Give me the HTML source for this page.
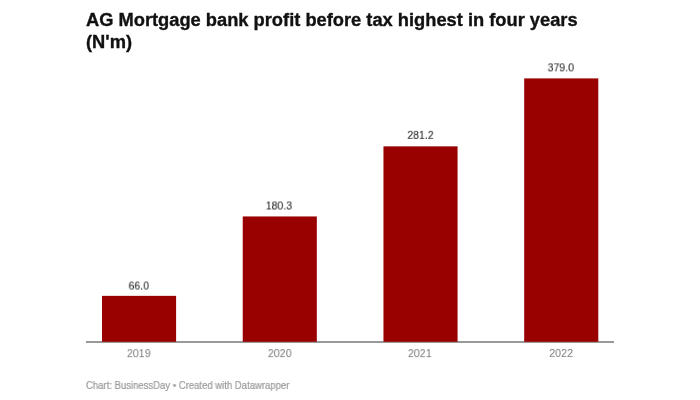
<!DOCTYPE html>
<html>
<head>
<meta charset="utf-8">
<style>
html,body{margin:0;padding:0;background:#fff;}
body{width:700px;height:400px;position:relative;overflow:hidden;filter:blur(0.35px);font-family:"Liberation Sans",sans-serif;}
.t{position:absolute;white-space:nowrap;}
.t,.val span,.yr span{will-change:transform;}
#title{left:86.4px;top:8.8px;font-size:18.3px;font-weight:bold;color:#111;line-height:21.9px;-webkit-text-stroke:0.35px #111;}
.bar{position:absolute;background:#990000;}
.val{position:absolute;width:100px;text-align:center;font-size:11.8px;color:#262626;line-height:14px;-webkit-text-stroke:0.08px #262626;}
.val span{display:inline-block;transform:translate(var(--dx),var(--dy)) scaleX(0.89);}
.yr{position:absolute;width:100px;text-align:center;font-size:11.8px;color:#777;line-height:14px;}
.yr span{display:inline-block;transform:translate(var(--dx),var(--dy)) scaleX(0.905);}
#axis{position:absolute;left:86px;top:341px;width:528px;height:2px;background:#999;}
#foot{left:85.8px;top:379.5px;font-size:10px;color:#999;line-height:12px;-webkit-text-stroke:0.2px #999;transform:scaleX(0.952);transform-origin:0 0;}
</style>
</head>
<body>
<div class="t" id="title">AG Mortgage bank profit before tax highest in four years<br>(N'm)</div>

<svg style="position:absolute;left:0;top:0" width="700" height="400" viewBox="0 0 700 400">
<rect x="86" y="341" width="528" height="2" fill="#999"/>
<rect x="102" y="295.85" width="74.1" height="45.95" fill="#990000"/>
<rect x="242.73" y="216.45" width="74.1" height="125.35" fill="#990000"/>
<rect x="383.46" y="146.35" width="74.1" height="195.45" fill="#990000"/>
<rect x="524.19" y="78.4" width="74.1" height="263.4" fill="#990000"/>
</svg>

<div class="val" style="left:89px;top:278px;--dx:-0.70px;--dy:0.53px;"><span>66.0</span></div>
<div class="val" style="left:229px;top:198px;--dx:0.16px;--dy:0.45px;"><span>180.3</span></div>
<div class="val" style="left:370px;top:128px;--dx:0.73px;--dy:-0.14px;"><span>281.2</span></div>
<div class="val" style="left:511px;top:60px;--dx:0.07px;--dy:0.32px;"><span>379.0</span></div>


<div class="yr" style="left:88px;top:346px;--dx:0.64px;--dy:0.13px;"><span>2019</span></div>
<div class="yr" style="left:230px;top:346px;--dx:-0.40px;--dy:0.12px;"><span>2020</span></div>
<div class="yr" style="left:370px;top:346px;--dx:-0.34px;--dy:0.11px;"><span>2021</span></div>
<div class="yr" style="left:510px;top:345px;--dx:0.99px;--dy:0.89px;"><span>2022</span></div>

<div class="t" id="foot">Chart: BusinessDay • Created with Datawrapper</div>
</body>
</html>
